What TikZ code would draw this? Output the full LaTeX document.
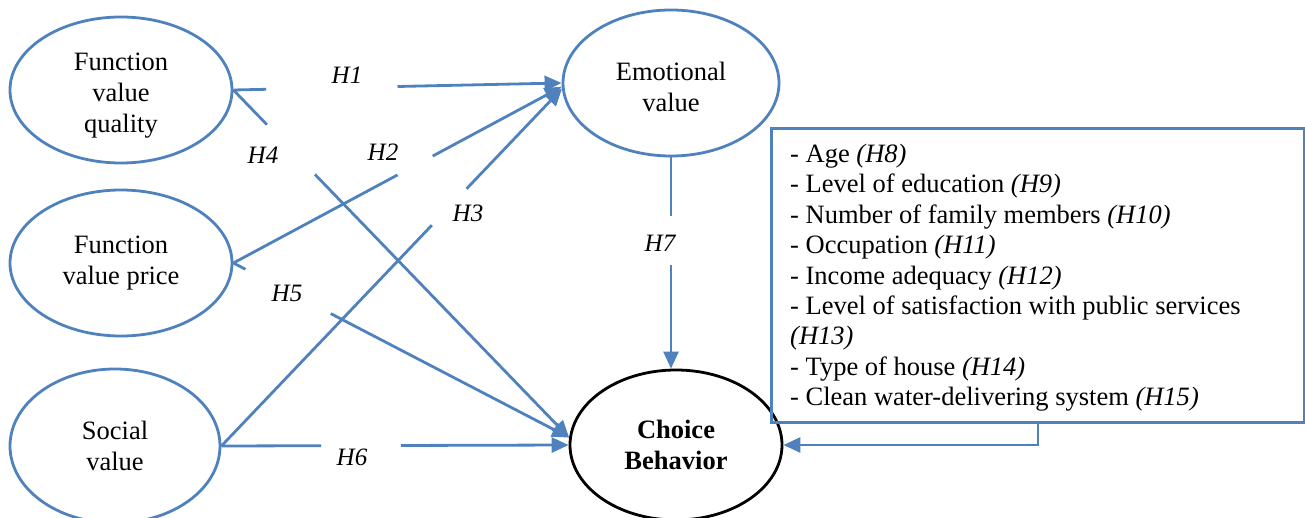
\documentclass[tikz,border=0pt]{standalone}
\usepackage{fontspec}
\setmainfont{Liberation Serif}
\usetikzlibrary{shapes.geometric,arrows.meta,calc}
\definecolor{lineblue}{HTML}{4F81BD}
\begin{document}
\begin{tikzpicture}[x=1pt,y=-1pt,
  oval/.style={ellipse, draw=lineblue, line width=2.8pt, inner sep=0pt, align=center,
               font=\fontsize{26.5}{31}\selectfont},
  ovaltext/.style={inner sep=0pt, align=center, font=\fontsize{26.5}{31}\selectfont},
  conn/.style={draw=lineblue, line width=2.8pt},
  arr/.style={conn, -{Triangle[length=17pt,width=15pt]}},
  hlab/.style={font=\fontsize{25}{28}\selectfont\itshape, inner sep=0pt}]
\useasboundingbox (0,0) rectangle (1305,518);

% ellipses
\node[oval, minimum width=222pt, minimum height=146pt] (fq) at (121,90) {};
\node[ovaltext] (fqt) at ($(fq.center)+(0,6)$) {Function\\value\\quality};
\node[oval, minimum width=222pt, minimum height=146pt] (fp) at (121,263) {Function\\value price};
\node[oval, minimum width=210pt, minimum height=154pt] (sv) at (115,446) {Social\\value};
\node[oval, minimum width=216pt, minimum height=146pt] (em) at (671,83) {};
\node[ovaltext] (emt) at ($(em.center)+(0,4)$) {Emotional\\value};
\node[oval, draw=black, minimum width=212pt, minimum height=150pt] (cb) at (676,445) {\textbf{Choice}\\\textbf{Behavior}};

% box
\node[draw=lineblue, line width=2.8pt, anchor=north west, minimum width=533pt,
      minimum height=294pt, inner sep=0pt] (bx) at (770,127) {};
\node[anchor=north west, align=left, inner sep=0pt,
      font=\fontsize{26.5}{30.4}\selectfont] (bxt) at (790,144)
  {- Age \textit{(H8)}\\
   - Level of education \textit{(H9)}\\
   - Number of family members \textit{(H10)}\\
   - Occupation \textit{(H11)}\\
   - Income adequacy \textit{(H12)}\\
   - Level of satisfaction with public services\\
   \textit{(H13)}\\
   - Type of house \textit{(H14)}\\
   - Clean water-delivering system \textit{(H15)}};

% H1
\draw[conn] (fq.east) -- ($(fq.east)!0.10!(em.west)$);
\draw[arr] ($(fq.east)!0.50!(em.west)$) -- (em.west);
\node[hlab] (h1) at (347,75) {H1};
% H4
\draw[conn] (fq.east) -- ($(fq.east)!0.10!(cb.176)$);
\draw[arr] ($(fq.east)!0.243!(cb.176)$) -- (cb.176);
\node[hlab] (h4) at (263,155) {H4};
% H2
\draw[conn] (fp.east) -- ($(fp.east)!0.50!(em.182)$);
\draw[arr] ($(fp.east)!0.607!(em.182)$) -- (em.182);
\node[hlab] (h2) at (383,152) {H2};
% H3
\draw[conn] (sv.east) -- ($(sv.east)!0.618!(em.183)$);
\draw[arr] ($(sv.east)!0.72!(em.183)$) -- (em.183);
\node[hlab] (h3) at (468,213) {H3};
% H5
\draw[conn] (fp.east) -- ($(fp.east)!0.036!(cb.176)$);
\draw[arr] ($(fp.east)!0.29!(cb.176)$) -- (cb.176);
\node[hlab] (h5) at (287,293) {H5};
% H6
\draw[conn] (sv.east) -- ($(sv.east)!0.287!(cb.west)$);
\draw[arr] ($(sv.east)!0.517!(cb.west)$) -- (cb.west);
\node[hlab] (h6) at (352,457) {H6};
% H7
\coordinate (cbtop) at (cb.north -| em.south);
\draw[conn] (em.south) -- ($(em.south)!0.276!(cbtop)$);
\draw[arr] ($(em.south)!0.509!(cbtop)$) -- (cbtop);
\node[hlab] (h7) at (660,243) {H7};

% feedback
\coordinate (fb) at (1038,445);
\draw[arr] (bx.south -| fb) -- (fb) -- (cb.east);
\end{tikzpicture}
\end{document}
